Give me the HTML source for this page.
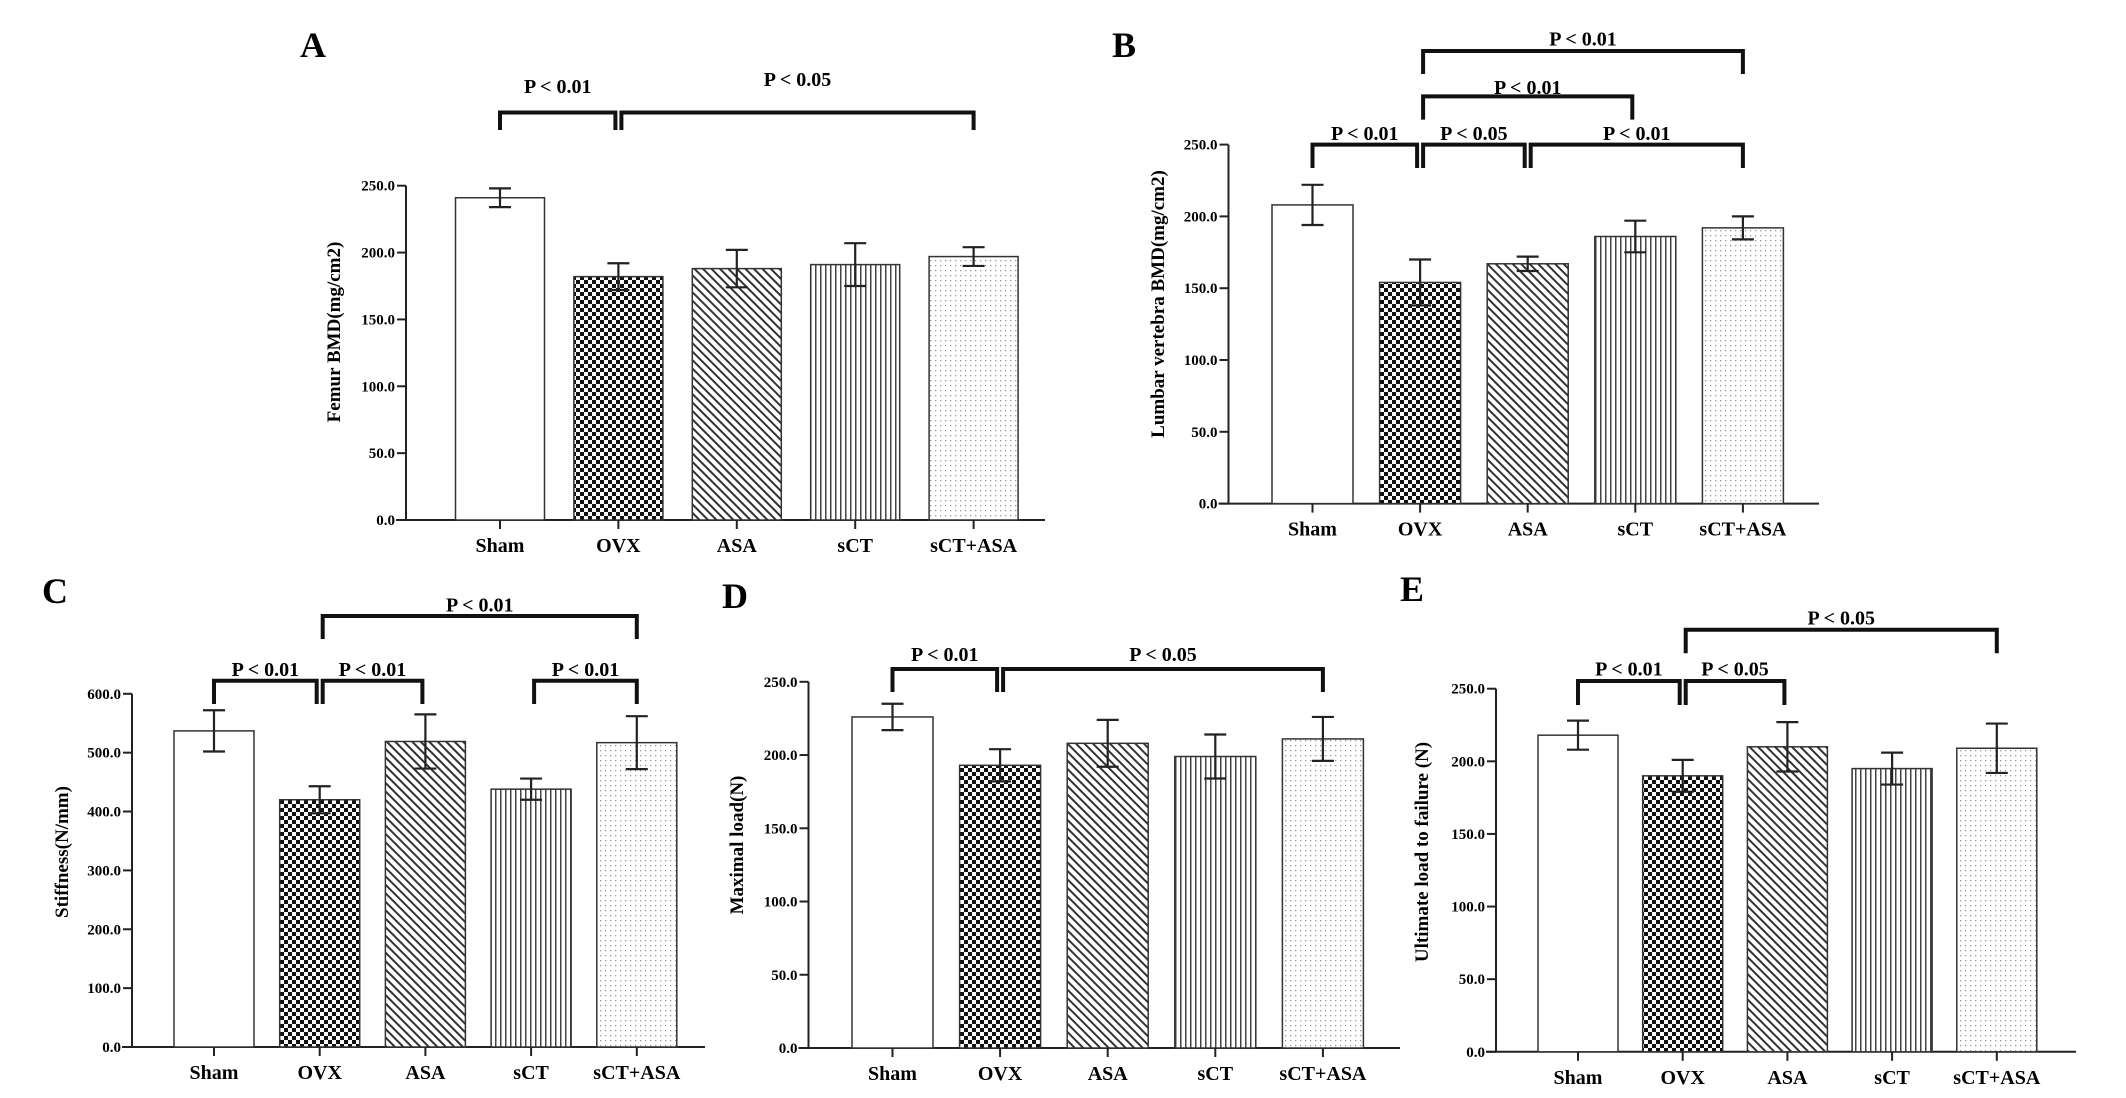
<!DOCTYPE html>
<html><head><meta charset="utf-8"><style>
html,body{margin:0;padding:0;background:#fff;}
svg{display:block;font-family:"Liberation Serif",serif;font-weight:bold;}
</style></head><body>
<svg id="fig" width="2126" height="1098" viewBox="0 0 2126 1098" xmlns="http://www.w3.org/2000/svg">
<defs>
<pattern id="pChk" width="8" height="8" patternUnits="userSpaceOnUse"><rect width="8" height="8" fill="#fff"/><rect width="4" height="4" fill="#111"/><rect x="4" y="4" width="4" height="4" fill="#111"/></pattern>
<pattern id="pDiag" width="6" height="6" patternUnits="userSpaceOnUse" patternTransform="rotate(-45)"><rect width="6" height="6" fill="#fff"/><rect width="2" height="6" fill="#333"/></pattern>
<pattern id="pVert" width="5" height="5" patternUnits="userSpaceOnUse"><rect width="5" height="5" fill="#fff"/><rect width="1.5" height="5" fill="#444"/></pattern>
<pattern id="pDot" width="5" height="5" patternUnits="userSpaceOnUse"><rect width="5" height="5" fill="#fff"/><rect width="1.3" height="1.3" fill="#999"/></pattern>
</defs>
</svg>
<script>
const categories = ["Sham","OVX","ASA","sCT","sCT+ASA"];
const fills = ["#fff","url(#pChk)","url(#pDiag)","url(#pVert)","url(#pDot)"];

const valuesA = [241,182,188,191,197];
const errA = [7,10,14,16,7];
const ticksA = ["0.0","50.0","100.0","150.0","200.0","250.0"];
const valuesB = [208,154,167,186,192];
const errB = [14,16,5,11,8];
const ticksB = ["0.0","50.0","100.0","150.0","200.0","250.0"];
const valuesC = [537,420,519,438,517];
const errC = [35,23,46,18,45];
const ticksC = ["0.0","100.0","200.0","300.0","400.0","500.0","600.0"];
const valuesD = [226,193,208,199,211];
const errD = [9,11,16,15,15];
const ticksD = ["0.0","50.0","100.0","150.0","200.0","250.0"];
const valuesE = [218,190,210,195,209];
const errE = [10,11,17,11,17];
const ticksE = ["0.0","50.0","100.0","150.0","200.0","250.0"];

const NS="http://www.w3.org/2000/svg";
const svg=document.getElementById('fig');
function mk(tag,attrs,parent,text){const e=document.createElementNS(NS,tag);for(const k in attrs)e.setAttribute(k,attrs[k]);if(text!==undefined)e.textContent=text;(parent||svg).appendChild(e);return e;}

const panels=[
 {id:"a",letter:"A",lx:300,ly:57,ax:406,base:520,top:185.7,max:250,x0:455.5,pitch:118.4,bw:89,xend:1045,title:"Femur BMD(mg/cm2)",tx:334,ty:332,vals:valuesA,err:errA,ticks:ticksA,
  br:[[0,1,112.5,130,"P < 0.01",86],[1,4,112.5,130,"P < 0.05",79]]},
 {id:"b",letter:"B",lx:1112,ly:57,ax:1228.5,base:503.6,top:144.6,max:250,x0:1272,pitch:107.6,bw:81,xend:1819,title:"Lumbar vertebra BMD(mg/cm2)",tx:1158,ty:304,vals:valuesB,err:errB,ticks:ticksB,
  br:[[1,4,51,74,"P < 0.01",38.6],[1,3,96.4,119.6,"P < 0.01",86.8],[0,1,144.6,168,"P < 0.01",133],[1,2,144.6,168,"P < 0.05",133],[2,4,144.6,168,"P < 0.01",133]]},
 {id:"c",letter:"C",lx:42,ly:603,ax:132,base:1047,top:693.8,max:600,x0:174,pitch:105.7,bw:80,xend:705,title:"Stiffness(N/mm)",tx:62,ty:852,vals:valuesC,err:errC,ticks:ticksC,
  br:[[1,4,616,639,"P < 0.01",604.6],[0,1,680.8,704,"P < 0.01",669],[1,2,680.8,704,"P < 0.01",669],[3,4,680.8,704,"P < 0.01",669]]},
 {id:"d",letter:"D",lx:722,ly:608,ax:808.5,base:1048,top:681.8,max:250,x0:852,pitch:107.6,bw:81,xend:1400,title:"Maximal load(N)",tx:737,ty:845,vals:valuesD,err:errD,ticks:ticksD,
  br:[[0,1,669,692,"P < 0.01",654],[1,4,669,692,"P < 0.05",654]]},
 {id:"e",letter:"E",lx:1400,ly:601,ax:1496,base:1051.8,top:688.7,max:250,x0:1538,pitch:104.7,bw:80,xend:2076,title:"Ultimate load to failure (N)",tx:1422,ty:852,vals:valuesE,err:errE,ticks:ticksE,
  br:[[1,4,629.7,653.3,"P < 0.05",617.7],[0,1,681,705,"P < 0.01",668.4],[1,2,681,705,"P < 0.05",668.4]]}
];

panels.forEach(p=>{
  const g=mk('g',{});
  
  
  const y=v=>p.base-(v/p.max)*(p.base-p.top);
  const cx=i=>p.x0+i*p.pitch+p.bw/2;
  const L=mk('text',{x:p.lx,y:p.ly,'font-size':36},g,p.letter);
  
  
  const ya=mk('line',{x1:p.ax,y1:p.top,x2:p.ax,y2:p.base,stroke:'#222','stroke-width':2},g);
  
  
  const xa=mk('line',{x1:p.ax-10,y1:p.base,x2:p.xend,y2:p.base,stroke:'#222','stroke-width':2},g);
  
  
  p.ticks.forEach((t)=>{
    const v=parseFloat(t);
    mk('line',{x1:p.ax-9,y1:y(v),x2:p.ax,y2:y(v),stroke:'#222','stroke-width':2},g);
    const tl=mk('text',{x:p.ax-11,y:y(v)+5,'font-size':15,'text-anchor':'end'},g,t);
    
    
  });
  const yt=mk('text',{x:p.tx,y:p.ty,'font-size':19,'text-anchor':'middle',transform:`rotate(-90 ${p.tx} ${p.ty})`,dy:6},g,p.title);
  
  
  categories.forEach((c,i)=>{
    const b=mk('rect',{x:p.x0+i*p.pitch,y:y(p.vals[i]),width:p.bw,height:p.base-y(p.vals[i]),fill:fills[i],stroke:'#333','stroke-width':1.5},g);
    
    
    const hi=y(p.vals[i]+p.err[i]),lo=y(p.vals[i]-p.err[i]),x=cx(i);
    const eb=mk('path',{d:`M${x},${hi}V${lo}M${x-11},${hi}H${x+11}M${x-11},${lo}H${x+11}`,stroke:'#222','stroke-width':2.2,fill:'none'},g);
    
    
    mk('line',{x1:x,y1:p.base,x2:x,y2:p.base+9,stroke:'#222','stroke-width':2},g);
    const xl=mk('text',{x:x,y:p.base+32,'font-size':20,'text-anchor':'middle'},g,c);
    
    
  });
  p.br.forEach(([a,b,t,bt,lab,ly])=>{
    const x1=cx(a)+(a===0?0:3),x2=cx(b)-(b===4?0:3);
    const pth=mk('path',{d:`M${x1},${bt}V${t}H${x2}V${bt}`,stroke:'#111','stroke-width':4,fill:'none'},g);
    
    
    const tx=mk('text',{x:(x1+x2)/2,y:ly+7,'font-size':20,'text-anchor':'middle'},g,lab);
    
    
  });
});
</script>
</body></html>
